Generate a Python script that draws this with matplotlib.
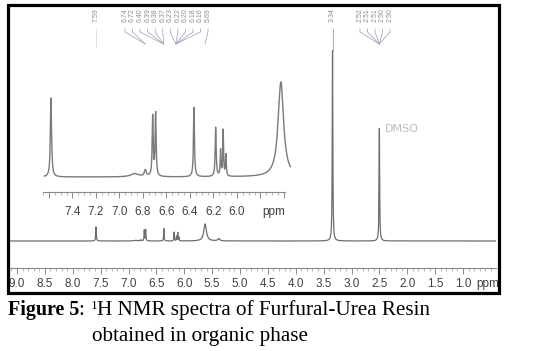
import numpy as np
import matplotlib
matplotlib.use('Agg')
import matplotlib.pyplot as plt
from matplotlib.patches import Rectangle
from matplotlib.lines import Line2D

# peaks: position (ppm), height (tallest = 1), half width (ppm)
peak_ppm = [7.583, 6.87, 6.78, 6.717, 6.692, 6.366, 6.181, 6.139, 6.117, 6.094, 5.626, 5.38, 3.34, 2.50]
peak_height = [0.074, 0.003, 0.006, 0.056, 0.059, 0.065, 0.046, 0.024, 0.043, 0.020, 0.089, 0.012, 1.0, 0.59]
peak_hw = [0.006, 0.04, 0.01, 0.005, 0.005, 0.005, 0.005, 0.004, 0.004, 0.004, 0.028, 0.02, 0.006, 0.006]

main_ticks = [9.0, 8.5, 8.0, 7.5, 7.0, 6.5, 6.0, 5.5, 5.0, 4.5, 4.0, 3.5, 3.0, 2.5, 2.0, 1.5, 1.0]
inset_ticks = [7.6, 7.4, 7.2, 7.0, 6.8, 6.6, 6.4, 6.2, 6.0, 5.8, 5.6]
inset_labels = ['', '7.4', '7.2', '7.0', '6.8', '6.6', '6.4', '6.2', '6.0', '', '']

# peak labels at the top, and the peak each one points to
single_labels = ['7.59', '3.34']
single_target = [7.583, 3.34]
cluster1_labels = ['6.74', '6.72', '6.40', '6.39', '6.38', '6.37',
                   '6.23', '6.22', '6.20', '6.18', '6.16', '5.69']
cluster1_target = [6.70, 6.70, 6.37, 6.37, 6.37, 6.37,
                   6.15, 6.15, 6.15, 6.15, 6.15, 5.63]
cluster2_labels = ['2.52', '2.51', '2.51', '2.50', '2.50']
cluster2_target = [2.50, 2.50, 2.50, 2.50, 2.50]

W, H = 540, 351


def spectrum(x, scale=1.0):
    y = np.zeros_like(x)
    for p, h, w in zip(peak_ppm, peak_height, peak_hw):
        y += scale * h * w**2 / ((x - p)**2 + w**2)
    return y


fig = plt.figure(figsize=(W / 100, H / 100), dpi=100)
fig.patch.set_facecolor('white')


def fax(x0, y_top, x1, y_bot):
    return [x0 / W, 1 - y_bot / H, (x1 - x0) / W, (y_bot - y_top) / H]


def style_axis(a, minor):
    for s in ['top', 'left', 'right']:
        a.spines[s].set_visible(False)
    a.spines['bottom'].set_color('#8a8a8a')
    a.spines['bottom'].set_linewidth(0.8)
    a.set_yticks([])
    a.set_xticks(minor, minor=True)
    a.tick_params(axis='x', which='major', length=4, width=0.7, color='#8a8a8a',
                  pad=3, labelsize=8.5, labelcolor='#404040')
    a.tick_params(axis='x', which='minor', length=2, width=0.5, color='#9a9a9a')
    for lab in a.get_xticklabels():
        lab.set_fontfamily('Liberation Sans')
    a.patch.set_alpha(0)


# main spectrum
ax = fig.add_axes(fax(10, 50, 496, 268))
x = np.linspace(0.3, 9.2, 60000)
ax.plot(x, spectrum(x), color='#6e6e6e', lw=0.9)
ax.set_xlim(9.126, 0.408)
ax.set_ylim(-0.1414, 1.0)
ax.set_xticks(main_ticks)
ax.set_xticklabels(['%.1f' % t for t in main_ticks])
style_axis(ax, np.arange(0.5, 9.11, 0.1))
ax.annotate('ppm', (0.55, 0), xycoords=('data', 'axes fraction'), xytext=(0, -7),
            textcoords='offset points', ha='center', va='top', fontsize=8.5,
            color='#404040', family='Liberation Sans')
ax.text(2.41, 0.585, 'DMSO', fontsize=8, color='#bdbdbd', va='center', ha='left',
        family='DejaVu Sans')

# inset
ai = fig.add_axes(fax(43, 75, 285, 192))
xi = np.linspace(5.545, 7.64, 20000)
ai.plot(xi, spectrum(xi, 1 / 0.089), color='#7a7a7a', lw=1.0, clip_on=False)
ai.set_xlim(7.651, 5.591)
ai.set_ylim(-0.158, 1.074)
ai.set_xticks(inset_ticks)
ai.set_xticklabels(inset_labels)
style_axis(ai, np.arange(5.6, 7.66, 0.05))
ai.tick_params(axis='x', which='major', pad=6)
ai.annotate('ppm', (5.69, 0), xycoords=('data', 'axes fraction'), xytext=(0, -10),
            textcoords='offset points', ha='center', va='top', fontsize=8.5,
            color='#404040', family='Liberation Sans')

# peak labels along the top
fig.canvas.draw()


def px(p):
    return ax.transData.transform((p, 0))[0]


def top_label(lx, text):
    fig.text(lx / W, 1 - 8 / H, text, rotation=90, ha='center', va='top',
             fontsize=5.0, color='#8c8c8c', family='Liberation Sans')


for t, p in zip(single_labels, single_target):
    lx = px(p)
    top_label(lx, t)
    dotted = p > 5
    fig.add_artist(Line2D([lx / W, lx / W], [1 - 29 / H, 1 - (47 if dotted else 50) / H],
                          color='#9a9aa8', lw=0.6, ls=':' if dotted else '-'))

for labels, targets, x0, x1 in [(cluster1_labels, cluster1_target, 125, 208),
                                (cluster2_labels, cluster2_target, 360, 390)]:
    pos = np.linspace(x0, x1, len(labels))
    for lx, t, p in zip(pos, labels, targets):
        top_label(lx, t)
        fig.add_artist(Line2D([lx / W, lx / W, px(p) / W],
                              [1 - 29 / H, 1 - 32 / H, 1 - 44 / H],
                              color='#9a9ab8', lw=0.5))

# frame
fig.add_artist(Rectangle((7.5 / W, 1 - 293 / H), 491 / W, 288 / H, fill=False,
                         ec='black', lw=2.3, transform=fig.transFigure))

# caption
renderer = fig.canvas.get_renderer()
y1 = 1 - 315 / H
t1 = fig.text(8 / W, y1, 'Figure 5', fontsize=14.4, fontweight='bold',
              family='Liberation Serif', va='baseline')
bb = t1.get_window_extent(renderer)
t2 = fig.text(bb.x1 / W, y1, ': ', fontsize=15.2, family='Liberation Serif', va='baseline')
bb = t2.get_window_extent(renderer)
t3 = fig.text(bb.x1 / W, y1 + 6 / H, '1', fontsize=9.5, family='Liberation Serif', va='baseline')
bb = t3.get_window_extent(renderer)
fig.text(bb.x1 / W, y1, 'H NMR spectra of Furfural-Urea Resin', fontsize=15.2,
         family='Liberation Serif', va='baseline')
fig.text(92 / W, 1 - 341 / H, 'obtained in organic phase', fontsize=15.2,
         family='Liberation Serif', va='baseline')

fig.savefig('out.png', dpi=100)
